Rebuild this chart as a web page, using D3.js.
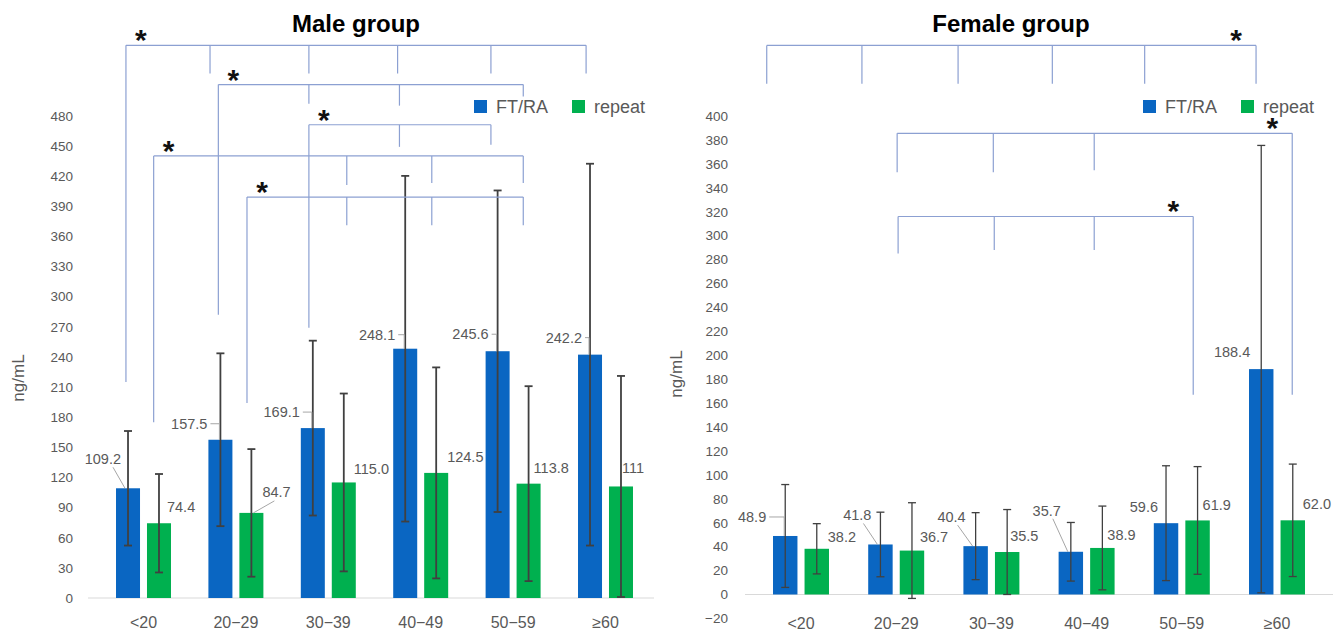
<!DOCTYPE html>
<html>
<head>
<meta charset="utf-8">
<script src="https://cdn.jsdelivr.net/npm/d3@7"></script>
<style>
  body { margin: 0; background: #fff; }
  svg text { font-family: "Liberation Sans", Arial, sans-serif; }
</style>
</head>
<body>
<svg id="chart" width="1338" height="633"></svg>
<script>
const categories = ["<20", "20\u221229", "30\u221239", "40\u221249", "50\u221259", "\u226560"];
const seriesNames = ["FT/RA", "repeat"];

// male group
const maleFT = [109.2, 157.5, 169.1, 248.1, 245.6, 242.2];
const maleFTsd = [57, 86, 87, 172, 160, 190];
const maleFTLabels = ["109.2", "157.5", "169.1", "248.1", "245.6", "242.2"];
const maleRepeat = [74.4, 84.7, 115.0, 124.5, 113.8, 111.0];
const maleRepeatSd = [49, 63.5, 88.5, 105, 97, 110];
const maleRepeatLabels = ["74.4", "84.7", "115.0", "124.5", "113.8", "111"];
const maleTicks = [0, 30, 60, 90, 120, 150, 180, 210, 240, 270, 300, 330, 360, 390, 420, 450, 480];

// female group
const femaleFT = [48.9, 41.8, 40.4, 35.7, 59.6, 188.4];
const femaleFTsd = [43, 27, 28, 24.5, 48, 187];
const femaleFTLabels = ["48.9", "41.8", "40.4", "35.7", "59.6", "188.4"];
const femaleRepeat = [38.2, 36.7, 35.5, 38.9, 61.9, 62.0];
const femaleRepeatSd = [21, 40, 35.5, 35, 45, 47];
const femaleRepeatLabels = ["38.2", "36.7", "35.5", "38.9", "61.9", "62.0"];
const femaleTicks = [-20, 0, 20, 40, 60, 80, 100, 120, 140, 160, 180, 200, 220, 240, 260, 280, 300, 320, 340, 360, 380, 400];

// significance brackets: y in data units, legs = [category index, bottom value]
const maleBrackets = [
  { y: 550, legs: [[-0.19, 215], [0.72, 522], [1.79, 522], [2.75, 522], [3.76, 522], [4.79, 522]], star: "left" },
  { y: 511, legs: [[0.81, 282], [1.79, 492], [2.77, 490], [4.11, 499]], star: "left" },
  { y: 471, legs: [[1.79, 269], [2.77, 449], [3.76, 451]], star: "left" },
  { y: 440, legs: [[0.11, 175], [2.20, 411], [3.12, 413], [4.11, 413]], star: "left" },
  { y: 399, legs: [[1.12, 194], [2.20, 371], [3.12, 371], [4.11, 371]], star: "left" }
];
const femaleBrackets = [
  { y: 459, legs: [[-0.36, 427], [0.64, 427], [1.65, 427], [2.64, 427], [3.61, 427], [4.78, 427]], star: "right" },
  { y: 385.5, legs: [[1.01, 353], [2.02, 353], [3.08, 354.6], [5.16, 167]], star: "right" },
  { y: 316, legs: [[1.02, 285], [2.03, 288], [3.08, 288], [4.12, 167]], star: "right" }
];

// label placement nudges (px from bar top centre) and leader style
const maleFTNudge = [[-7, -24], [-13, -11], [-13, -11], [-10, -9], [-9, -12], [-8, -12]];
const maleFTLeader = ["diag", "hook", "hook", "hook", "hook", "hook"];
const maleRepeatNudge = [[8, -11], [11, -16], [10, -8], [11, -11], [5, -11], [1, -13]];
const maleRepeatLeader = ["", "diag", "", "", "", ""];
const femaleFTNudge = [[-19, -14], [-9, -24], [-10, -24], [-10, -36], [-8, -11], [-11, -12]];
const femaleFTLeader = ["hook", "diag", "diag", "diag", "", ""];
const femaleRepeatNudge = [[11, -7], [8, -9], [3, -11], [5, -8], [5, -10], [10, -11]];
const femaleRepeatLeader = ["", "", "", "", "", ""];

const colors = { "FT/RA": "#0a66c2", "repeat": "#00b04f" };
const grey = "#595959";
const svg = d3.select("#chart");

function drawPanel(p) {
  const g = svg.append("g");

  const x0 = d3.scaleBand().domain(categories).range(p.band)
    .paddingInner(p.pad).paddingOuter(p.pad / 2);
  const x1 = d3.scaleBand().domain(seriesNames).range([0, x0.bandwidth()]).paddingInner(0.225);
  const y = d3.scaleLinear().domain(p.yDomain).range(p.yRange);
  const xi = d3.scaleLinear().domain([0, categories.length - 1])
    .range([x0(categories[0]) + x0.bandwidth() / 2, x0(categories[categories.length - 1]) + x0.bandwidth() / 2]);

  // y axis
  const ya = g.append("g").attr("transform", `translate(${p.axisX},0)`)
    .call(d3.axisLeft(y).tickValues(p.ticks).tickSize(0).tickPadding(7));
  ya.select(".domain").remove();
  ya.selectAll("text").attr("fill", grey).style("font-size", "13.5px");

  // baseline + x labels
  g.append("line")
    .attr("x1", p.baseline[0]).attr("x2", p.baseline[1])
    .attr("y1", y(0)).attr("y2", y(0))
    .attr("stroke", "#d9d9d9").attr("stroke-width", 1.2);
  const xa = g.append("g").attr("transform", `translate(0,${y(0)})`)
    .call(d3.axisBottom(x0).tickSize(0).tickPadding(p.xPad));
  xa.select(".domain").remove();
  xa.selectAll("text").attr("fill", grey).style("font-size", "16px");

  const rows = p.series.map(s => ({
    name: s.name,
    data: categories.map((c, i) => ({
      cat: c, i, v: s.values[i], sd: s.sd[i], label: s.labels[i],
      nudge: s.nudge[i], leader: s.leader[i]
    }))
  }));

  // bars
  rows.forEach(r => {
    g.append("g").selectAll("rect").data(r.data).join("rect")
      .attr("x", d => x0(d.cat) + x1(r.name))
      .attr("y", d => y(d.v))
      .attr("width", x1.bandwidth())
      .attr("height", d => y(0) - y(d.v))
      .attr("fill", colors[r.name]);
  });

  // error bars
  rows.forEach(r => {
    const cx = d => x0(d.cat) + x1(r.name) + x1.bandwidth() / 2;
    const eg = g.append("g").attr("stroke", "#404040").attr("stroke-width", p.errW);
    eg.selectAll(".v").data(r.data).join("line")
      .attr("x1", cx).attr("x2", cx)
      .attr("y1", d => y(d.v - d.sd)).attr("y2", d => y(d.v + d.sd));
    [1, -1].forEach(sgn => {
      eg.selectAll(null).data(r.data).join("line")
        .attr("x1", d => cx(d) - 4).attr("x2", d => cx(d) + 4)
        .attr("y1", d => y(d.v + sgn * d.sd)).attr("y2", d => y(d.v + sgn * d.sd));
    });
  });

  // data labels and leaders
  rows.forEach((r, si) => {
    r.data.forEach(d => {
      const cx = x0(d.cat) + x1(r.name) + x1.bandwidth() / 2;
      const top = y(d.v);
      const lx = cx + d.nudge[0], ly = top + d.nudge[1];
      g.append("text").attr("x", lx).attr("y", ly)
        .attr("text-anchor", si === 0 ? "end" : "start")
        .attr("fill", grey).style("font-size", "14.5px").text(d.label);
      let pts = null;
      if (d.leader === "hook") pts = [[lx + 3, ly - 5], [cx - 1, ly - 5], [cx - 1, top]];
      if (d.leader === "diag") pts = si === 0
        ? [[lx - 8, ly + 3], [cx - 3, top]]
        : [[lx + 12, ly + 4], [cx + 2, top]];
      if (pts) g.append("path").attr("d", d3.line()(pts))
        .attr("fill", "none").attr("stroke", "#a6a6a6").attr("stroke-width", 1);
    });
  });

  // brackets
  const bg = g.append("g").attr("stroke", "#8ca0d2").attr("stroke-width", 1.2).attr("fill", "none");
  p.brackets.forEach(b => {
    const xs = b.legs.map(l => xi(l[0]));
    bg.append("line").attr("x1", d3.min(xs)).attr("x2", d3.max(xs))
      .attr("y1", y(b.y)).attr("y2", y(b.y));
    b.legs.forEach(l => {
      bg.append("line").attr("x1", xi(l[0])).attr("x2", xi(l[0]))
        .attr("y1", y(b.y)).attr("y2", y(l[1]));
    });
    const sx = b.star === "left" ? d3.min(xs) + 15 : d3.max(xs) - 20;
    const sy = y(b.y) - 12;
    g.append("text").attr("x", sx).attr("y", sy + 17)
      .attr("text-anchor", "middle").attr("font-weight", "bold")
      .style("font-size", "30px").attr("fill", "#111").text("*");
  });

  // title
  g.append("text").attr("x", p.titleX).attr("y", 32)
    .attr("text-anchor", "middle").attr("font-weight", "bold")
    .style("font-size", "24px").attr("fill", "#000").text(p.title);

  // y label
  g.append("text")
    .attr("transform", `translate(${p.yLabel[0]},${p.yLabel[1]}) rotate(-90)`)
    .attr("text-anchor", "middle").attr("dy", "0.35em")
    .attr("fill", grey).style("font-size", "17px").text("ng/mL");

  // legend
  const lg = g.append("g").attr("transform", `translate(${p.legendX},100)`);
  seriesNames.forEach((s, i) => {
    const off = i * 98;
    lg.append("rect").attr("x", off).attr("y", 0).attr("width", 13).attr("height", 13).attr("fill", colors[s]);
    lg.append("text").attr("x", off + 22).attr("y", 7).attr("dy", "0.35em")
      .attr("fill", grey).style("font-size", "18px").text(s);
  });
}

drawPanel({
  title: "Male group", titleX: 356,
  band: [97.3, 651.7], pad: 0.405,
  yDomain: [0, 480], yRange: [598, 115.7], ticks: maleTicks,
  axisX: 80, baseline: [88, 654], xPad: 19, errW: 1.8,
  yLabel: [18, 378], legendX: 474,
  brackets: maleBrackets,
  series: [
    { name: "FT/RA", values: maleFT, sd: maleFTsd, labels: maleFTLabels, nudge: maleFTNudge, leader: maleFTLeader },
    { name: "repeat", values: maleRepeat, sd: maleRepeatSd, labels: maleRepeatLabels, nudge: maleRepeatNudge, leader: maleRepeatLeader }
  ]
});

drawPanel({
  title: "Female group", titleX: 1011,
  band: [753.4, 1324.6], pad: 0.412,
  yDomain: [-20, 400], yRange: [618.4, 116], ticks: femaleTicks,
  axisX: 735, baseline: [745, 1333], xPad: 23, errW: 1.3,
  yLabel: [676, 374], legendX: 1143,
  brackets: femaleBrackets,
  series: [
    { name: "FT/RA", values: femaleFT, sd: femaleFTsd, labels: femaleFTLabels, nudge: femaleFTNudge, leader: femaleFTLeader },
    { name: "repeat", values: femaleRepeat, sd: femaleRepeatSd, labels: femaleRepeatLabels, nudge: femaleRepeatNudge, leader: femaleRepeatLeader }
  ]
});
</script>
</body>
</html>
